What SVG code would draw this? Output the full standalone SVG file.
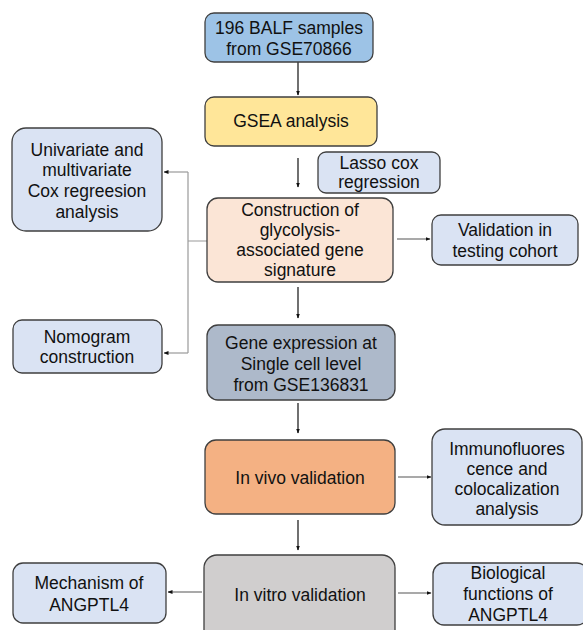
<svg xmlns="http://www.w3.org/2000/svg" width="583" height="630" viewBox="0 0 583 630">
<style>
.b{stroke:#3f3f3f;stroke-width:1.3}
.side{fill:#dae3f3}
text{font-family:"Liberation Sans","Open Sans",sans-serif;font-size:17.5px;fill:#111;text-anchor:middle}
.c{fill:none;stroke:#111;stroke-width:1.2}
.g{fill:none;stroke:#9a9a9a;stroke-width:1.2}
.s{fill:none;stroke:#555;stroke-width:1.1}
</style>
<defs>
<marker id="ah" viewBox="0 0 10 10" refX="9" refY="5" markerWidth="5" markerHeight="5" orient="auto" markerUnits="userSpaceOnUse"><path d="M0,1 L10,5 L0,9 z" fill="#111"/></marker>
</defs>
<rect width="583" height="630" fill="#fff"/>
<g id="connectors">
<line class="c" x1="298" y1="62" x2="298" y2="95" marker-end="url(#ah)"/>
<line class="c" x1="298" y1="158" x2="298" y2="187" marker-end="url(#ah)"/>
<line class="c" x1="298" y1="287" x2="298" y2="318" marker-end="url(#ah)"/>
<line class="c" x1="298" y1="403" x2="298" y2="433" marker-end="url(#ah)"/>
<line class="c" x1="298" y1="520" x2="298" y2="550" marker-end="url(#ah)"/>
<line class="s" x1="397" y1="239" x2="430" y2="239" marker-end="url(#ah)"/>
<line class="s" x1="398" y1="477" x2="431" y2="477" marker-end="url(#ah)"/>
<line class="s" x1="398" y1="593" x2="431" y2="593" marker-end="url(#ah)"/>
<line class="s" x1="202" y1="592" x2="168" y2="592" marker-end="url(#ah)"/>
<path class="g" d="M207,241 H188 M188,172 V353"/>
<line class="g" x1="188" y1="172" x2="164" y2="172" marker-end="url(#ah)"/>
<line class="g" x1="188" y1="353" x2="164" y2="353" marker-end="url(#ah)"/>
</g>
<g id="balf"><rect class="b" x="205" y="13" width="168" height="49" rx="9" fill="#9dc3e6"/>
<text x="289" y="34">196 BALF samples</text><text x="289" y="55">from GSE70866</text></g>
<g id="gsea"><rect class="b" x="205" y="97" width="172" height="49" rx="9" fill="#ffe699"/>
<text x="291" y="127">GSEA analysis</text></g>
<g id="lasso"><rect class="b" x="318" y="152" width="122" height="41" rx="8" fill="#dae3f3"/>
<text x="379" y="169">Lasso cox</text><text x="379" y="188">regression</text></g>
<g id="construction"><rect class="b" x="207" y="198" width="186" height="84" rx="11" fill="#fbe5d6"/>
<text x="300" y="216">Construction of</text><text x="300" y="236">glycolysis-</text><text x="300" y="256">associated gene</text><text x="300" y="276">signature</text></g>
<g id="validation"><rect class="b side" x="432" y="215" width="146" height="50" rx="9"/>
<text x="505" y="236">Validation in</text><text x="505" y="257">testing cohort</text></g>
<g id="cox"><rect class="b side" x="12" y="128" width="150" height="103" rx="14"/>
<text x="87" y="156">Univariate and</text><text x="87" y="176">multivariate</text><text x="87" y="197">Cox regreesion</text><text x="87" y="218">analysis</text></g>
<g id="nomogram"><rect class="b side" x="13" y="320" width="149" height="53" rx="9"/>
<text x="87" y="343">Nomogram</text><text x="87" y="363">construction</text></g>
<g id="gene"><rect class="b" x="207" y="325" width="188" height="75" rx="11" fill="#adb9ca"/>
<text x="301" y="349">Gene expression at</text><text x="301" y="370">Single cell level</text><text x="301" y="391">from GSE136831</text></g>
<g id="invivo"><rect class="b" x="205" y="440" width="190" height="74" rx="11" fill="#f4b183"/>
<text x="300" y="484">In vivo validation</text></g>
<g id="immuno"><rect class="b side" x="432" y="429" width="150" height="96" rx="13"/>
<text x="507" y="455">Immunofluores</text><text x="507" y="475">cence and</text><text x="507" y="495">colocalization</text><text x="507" y="515">analysis</text></g>
<g id="invitro"><rect class="b" x="204" y="555" width="191" height="90" rx="13" fill="#d0cece"/>
<text x="300" y="601">In vitro validation</text></g>
<g id="mechanism"><rect class="b side" x="13" y="563" width="153" height="60" rx="10"/>
<text x="89" y="589">Mechanism of</text><text x="89" y="611">ANGPTL4</text></g>
<g id="biological"><rect class="b side" x="433" y="563" width="155" height="62" rx="11"/>
<text x="508" y="579">Biological</text><text x="508" y="600">functions of</text><text x="508" y="621">ANGPTL4</text></g>
</svg>
